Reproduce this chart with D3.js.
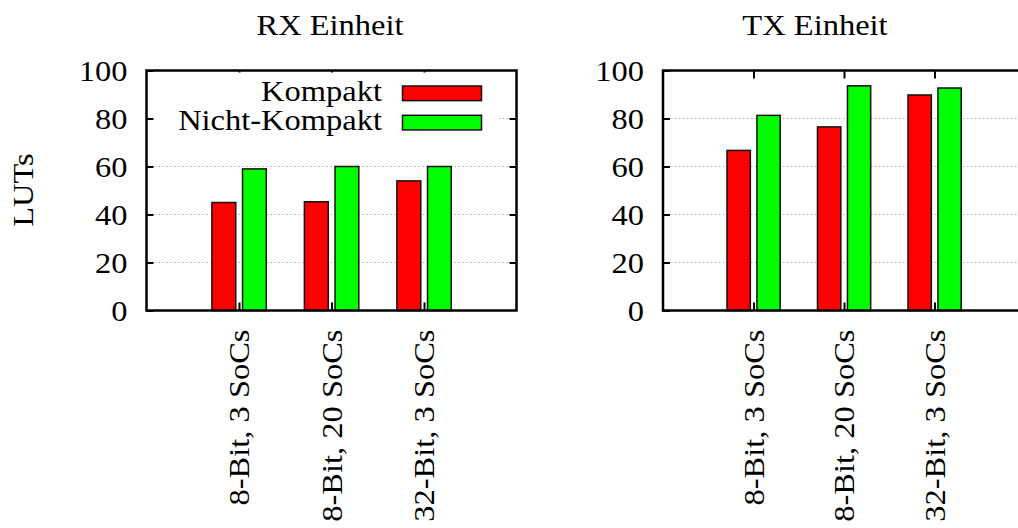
<!DOCTYPE html>
<html>
<head>
<meta charset="utf-8">
<script src="https://cdn.jsdelivr.net/npm/d3@7"></script>
<style>
  html, body { margin: 0; padding: 0; background: #fff; }
</style>
</head>
<body>
<svg id="chart" width="1018" height="528"></svg>
<script>
// LUT usage of the RX and TX units for three configurations
const categories = ["8-Bit, 3 SoCs", "8-Bit, 20 SoCs", "32-Bit, 3 SoCs"];
const seriesNames = ["Kompakt", "Nicht-Kompakt"];
const seriesColors = ["#ff0000", "#00ff00"];
const rxKompakt = [45, 45.3, 54];
const rxNichtKompakt = [59, 60, 60];
const txKompakt = [66.7, 76.5, 89.8];
const txNichtKompakt = [81.3, 93.6, 92.7];
const yTicks = [0, 20, 40, 60, 80, 100];
const gridTicks = [20, 40, 60, 80];

const svg = d3.select("#chart");
const FONT = "Liberation Serif";
const FS = 29;
const STRETCH = 1.12; // widen the glyphs a little, closer to a Computer Modern look

function styleText(sel) {
  sel.style("font-family", FONT).style("font-size", FS + "px").attr("fill", "#000");
  return sel;
}
function widen(sel) {
  sel.each(function () {
    const w = this.getComputedTextLength();
    d3.select(this).attr("textLength", w * STRETCH).attr("lengthAdjust", "spacingAndGlyphs");
  });
  return sel;
}

const panels = [
  { title: "RX Einheit", titleX: 330, left: 146.5, right: 516.5, values: [rxKompakt, rxNichtKompakt], legend: true },
  { title: "TX Einheit", titleX: 815, left: 663, right: 1025, values: [txKompakt, txNichtKompakt], legend: false }
];

const plotTop = 70.5, plotBottom = 310.5;
// bar extents relative to the category position, in x units
const barSpan = [[-0.293, -0.035], [0.038, 0.295]];

panels.forEach(p => {
  const x = d3.scaleLinear().domain([-1, 3]).range([p.left, p.right]);
  const y = d3.scaleLinear().domain([0, 100]).range([plotBottom, plotTop]);
  const g = svg.append("g");

  // dotted grid
  g.append("g").selectAll("line").data(gridTicks).join("line")
    .attr("x1", p.left).attr("x2", p.right)
    .attr("y1", d => y(d)).attr("y2", d => y(d))
    .attr("stroke", "#b0b0b0").attr("stroke-width", 1)
    .attr("stroke-dasharray", "1.5,2.5");

  // bars
  p.values.forEach((vals, s) => {
    g.append("g").selectAll("rect").data(vals).join("rect")
      .attr("x", (d, i) => x(i + barSpan[s][0]))
      .attr("width", (d, i) => x(i + barSpan[s][1]) - x(i + barSpan[s][0]))
      .attr("y", d => y(d))
      .attr("height", d => y(0) - y(d))
      .attr("fill", seriesColors[s])
      .attr("stroke", "#111").attr("stroke-width", 1.5);
  });

  // mirrored x ticks on top
  const xTop = d3.axisTop(x).tickValues([0, 1, 2]).tickSizeInner(-8).tickSizeOuter(0).tickFormat("");
  const gt = g.append("g").attr("transform", `translate(0,${plotTop})`).call(xTop);
  gt.select(".domain").remove();
  gt.selectAll("line").attr("stroke", "#000").attr("stroke-width", 2);

  // legend with an opaque background
  if (p.legend) {
    g.append("rect").attr("x", p.left + 2).attr("y", plotTop + 2)
      .attr("width", 350).attr("height", 68).attr("fill", "#fff");
    const lg = g.append("g");
    seriesNames.forEach((name, s) => {
      const cy = 93.3 + s * 29.3;
      lg.append("rect").attr("x", 402.5).attr("y", cy - 7.3)
        .attr("width", 79).attr("height", 14.6)
        .attr("fill", seriesColors[s]).attr("stroke", "#111").attr("stroke-width", 1.5);
      widen(styleText(lg.append("text").attr("x", 382).attr("y", cy + 7.3)
        .attr("text-anchor", "end").text(name)));
    });
  }

  // y axis: inward ticks on both sides, labels on the left
  const yLeft = d3.axisLeft(y).tickValues(yTicks).tickSizeInner(-7).tickSizeOuter(0).tickPadding(19);
  const gy = g.append("g").attr("transform", `translate(${p.left},0)`).call(yLeft);
  gy.select(".domain").remove();
  gy.selectAll("line").attr("stroke", "#000").attr("stroke-width", 2);
  widen(styleText(gy.selectAll("text")).attr("dy", "0.34em"));

  const yRight = d3.axisRight(y).tickValues(yTicks.slice(1, -1)).tickSizeInner(-7).tickSizeOuter(0).tickFormat("");
  const gyr = g.append("g").attr("transform", `translate(${p.right},0)`).call(yRight);
  gyr.select(".domain").remove();
  gyr.selectAll("line").attr("stroke", "#000").attr("stroke-width", 2);

  // x axis with rotated category labels
  const xBottom = d3.axisBottom(x).tickValues([0, 1, 2]).tickSizeInner(-8).tickSizeOuter(0)
    .tickFormat(i => categories[i]);
  const gx = g.append("g").attr("transform", `translate(0,${plotBottom})`).call(xBottom);
  gx.select(".domain").remove();
  gx.selectAll("line").attr("stroke", "#000").attr("stroke-width", 2);
  widen(styleText(gx.selectAll("text"))
    .attr("transform", "rotate(-90)")
    .attr("text-anchor", "end")
    .attr("x", -19).attr("y", 0).attr("dy", "0.34em"));

  // plot border
  g.append("rect").attr("x", p.left).attr("y", plotTop)
    .attr("width", p.right - p.left).attr("height", plotBottom - plotTop)
    .attr("fill", "none").attr("stroke", "#000").attr("stroke-width", 2.5);

  // title
  widen(styleText(g.append("text").attr("x", p.titleX).attr("y", 35)
    .attr("text-anchor", "middle").text(p.title)));
});

// shared y label
widen(styleText(svg.append("text")
  .attr("transform", "translate(33,190) rotate(-90)")
  .attr("text-anchor", "middle").text("LUTs")));
</script>
</body>
</html>
